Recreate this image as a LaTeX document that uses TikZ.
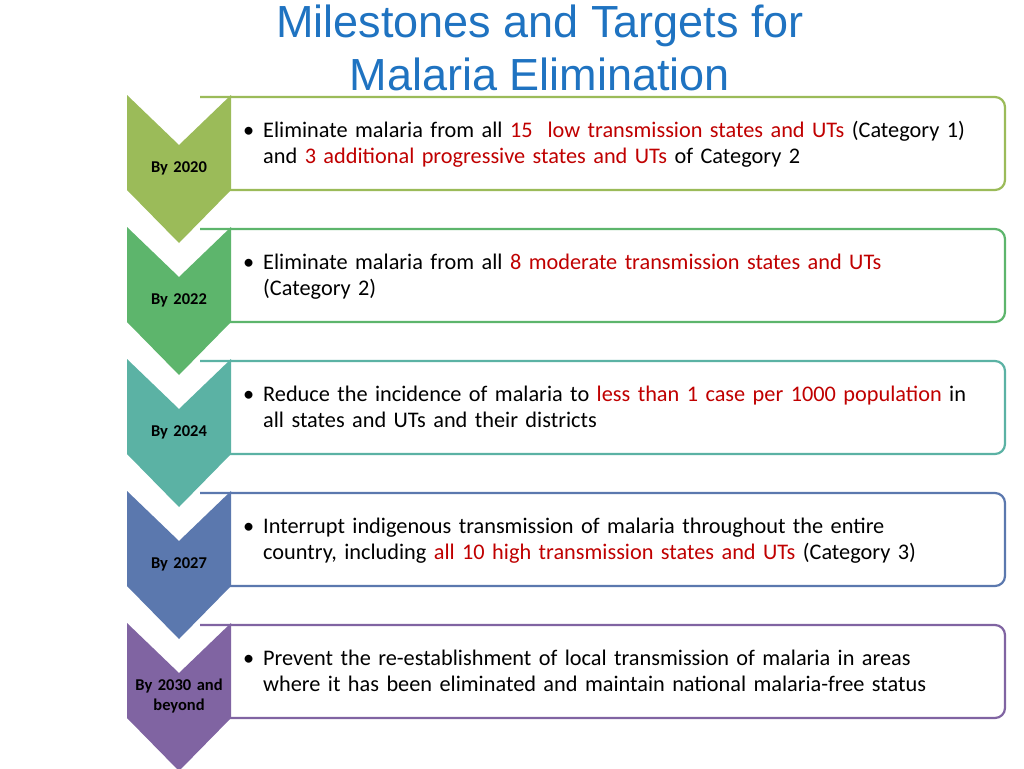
\documentclass[tikz,border=0pt]{standalone}
\usepackage{fontspec}
\setmainfont{Carlito}
\newfontfamily\titlefont{Liberation Sans}
\definecolor{stepA}{HTML}{9BBB59}
\definecolor{stepB}{HTML}{5DB56C}
\definecolor{stepC}{HTML}{5BB2A4}
\definecolor{stepD}{HTML}{5B78AE}
\definecolor{stepE}{HTML}{8064A2}
\definecolor{titleblue}{HTML}{1F73C1}
\definecolor{hilite}{HTML}{C00000}
\tikzset{
  goalbox/.style={draw=#1, line width=2.2pt, fill=white, rounded corners=10pt},
  yearlabel/.style={font=\bfseries\fontsize{16.5}{20}\selectfont, align=center, text width=104pt, inner sep=0pt},
  goaltext/.style={anchor=base west, text width=760pt, inner sep=0pt, font=\fontsize{22.3}{26.5}\selectfont},
  bulletmark/.style={anchor=base west, inner sep=0pt, font=\fontsize{22.3}{26.5}\selectfont}
}
\newcommand{\hl}[1]{\textcolor{hilite}{#1}}
\begin{document}
\begin{tikzpicture}[x=1pt,y=-1pt]
  \useasboundingbox (0,0) rectangle (1024,768);
  \node[font=\titlefont\fontsize{45}{53}\selectfont, text=titleblue, align=center] (title) at (540,48)
    {Milestones and Targets for\\Malaria Elimination};

  \begin{scope}[shift={(0,95)}]
    \draw[goalbox=stepA] (200,2) -- (1005,2) -- (1005,95) -- (200,95);
    \path[fill=stepA] (127,0) -- (179,50) -- (231,0) -- (231,95) -- (179,148) -- (127,95) -- cycle;
    \node[yearlabel] (y2020) at (179,73) {By 2020};
    \node[bulletmark] (b2020) at (243,42) {\textbullet};
    \node[goaltext] (t2020) at (263,42) {\raggedright Eliminate malaria from all \hl{15\ \ low transmission states and UTs} (Category 1)\\and \hl{3 additional progressive states and UTs} of Category 2\par};
  \end{scope}

  \begin{scope}[shift={(0,227)}]
    \draw[goalbox=stepB] (200,2) -- (1005,2) -- (1005,95) -- (200,95);
    \path[fill=stepB] (127,0) -- (179,50) -- (231,0) -- (231,95) -- (179,148) -- (127,95) -- cycle;
    \node[yearlabel] (y2022) at (179,73) {By 2022};
    \node[bulletmark] (b2022) at (243,42) {\textbullet};
    \node[goaltext] (t2022) at (263,42) {\raggedright Eliminate malaria from all \hl{8 moderate transmission states and UTs}\\(Category 2)\par};
  \end{scope}

  \begin{scope}[shift={(0,359)}]
    \draw[goalbox=stepC] (200,2) -- (1005,2) -- (1005,95) -- (200,95);
    \path[fill=stepC] (127,0) -- (179,50) -- (231,0) -- (231,95) -- (179,148) -- (127,95) -- cycle;
    \node[yearlabel] (y2024) at (179,73) {By 2024};
    \node[bulletmark] (b2024) at (243,42) {\textbullet};
    \node[goaltext] (t2024) at (263,42) {\raggedright Reduce the incidence of malaria to \hl{less than 1 case per 1000 population} in\\all states and UTs and their districts\par};
  \end{scope}

  \begin{scope}[shift={(0,491)}]
    \draw[goalbox=stepD] (200,2) -- (1005,2) -- (1005,95) -- (200,95);
    \path[fill=stepD] (127,0) -- (179,50) -- (231,0) -- (231,95) -- (179,148) -- (127,95) -- cycle;
    \node[yearlabel] (y2027) at (179,73) {By 2027};
    \node[bulletmark] (b2027) at (243,42) {\textbullet};
    \node[goaltext] (t2027) at (263,42) {\raggedright Interrupt indigenous transmission of malaria throughout the entire\\country, including \hl{all 10 high transmission states and UTs} (Category 3)\par};
  \end{scope}

  \begin{scope}[shift={(0,623)}]
    \draw[goalbox=stepE] (200,2) -- (1005,2) -- (1005,95) -- (200,95);
    \path[fill=stepE] (127,0) -- (179,50) -- (231,0) -- (231,95) -- (179,148) -- (127,95) -- cycle;
    \node[yearlabel] (y2030) at (179,73) {By 2030 and\\beyond};
    \node[bulletmark] (b2030) at (243,42) {\textbullet};
    \node[goaltext] (t2030) at (263,42) {\raggedright Prevent the re-establishment of local transmission of malaria in areas\\where it has been eliminated and maintain national malaria-free status\par};
  \end{scope}
\end{tikzpicture}
\end{document}
